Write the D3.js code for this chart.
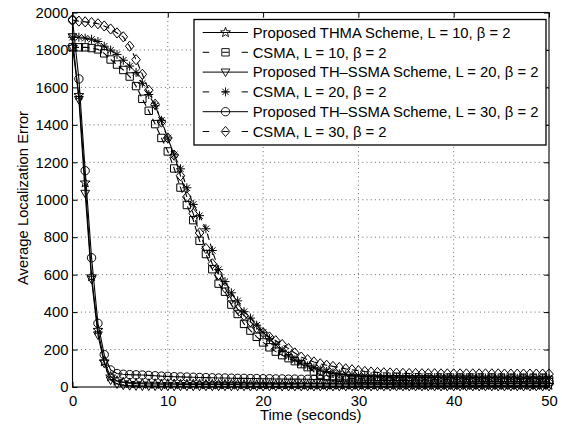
<!DOCTYPE html>
<html><head><meta charset="utf-8">
<script src="https://cdn.jsdelivr.net/npm/d3@7"></script>
<style>
html,body{margin:0;padding:0;background:#fff;}
text{font-family:"Liberation Sans",Arial,Helvetica,sans-serif;fill:#000;}
</style></head>
<body><svg id="chart" width="562" height="430"></svg>
<script>
// ---------------- data ----------------
const time = [0,0.67,1.33,2,2.67,3.33,4,4.67,5.33,6,6.67,7.33,8,8.67,9.33,10,10.67,11.33,12,12.67,
13.33,14,14.67,15.33,16,16.67,17.33,18,18.67,19.33,20,20.67,21.33,22,22.67,23.33,24,24.67,25.33,26,
26.67,27.33,28,28.67,29.33,30,30.67,31.33,32,32.67,33.33,34,34.67,35.33,36,36.67,37.33,38,38.67,39.33,
40,40.67,41.33,42,42.67,43.33,44,44.67,45.33,46,46.67,47.33,48,48.67,49.33,50];

const thmaL10 = [1815,1558,1091,590,304,135,55,32,24,20,18,17,16,16,15,15,15,14,14,14,
14,13,13,13,13,13,13,12,12,12,12,12,12,12,12,12,11,11,11,11,
11,11,11,11,11,11,11,11,11,11,11,10,10,10,10,10,10,10,10,10,
10,10,10,10,10,10,10,10,10,10,10,10,10,10,10,10];

const csmaL10 = [1814,1814,1814,1810,1803,1782,1749,1722,1693,1658,1607,1539,1475,1404,1330,1258,1167,1065,972,891,
781,710,629,552,509,440,390,337,301,268,238,212,189,170,154,138,122,106,83,66,
57,52,49,47,46,45,44,43,43,42,42,42,42,41,41,41,41,40,40,40,
40,40,40,40,39,39,39,39,39,39,39,39,38,38,38,38];

const thssmaL20 = [1870,1535,1034,575,278,127,37,16,10,7,6,5,5,5,4,4,4,4,4,4,
4,4,4,4,4,4,4,4,3,3,3,3,3,3,3,3,3,3,3,3,
3,3,3,3,3,3,3,3,3,3,3,3,3,3,3,3,3,3,3,3,
3,3,3,3,3,3,3,3,3,3,3,3,3,3,3,3];

const csmaL20 = [1868,1868,1863,1857,1845,1820,1799,1776,1745,1714,1680,1622,1562,1502,1424,1330,1240,1165,1064,975,
915,845,729,627,563,503,460,402,368,330,292,258,226,194,166,145,128,113,101,91,
83,76,70,66,62,59,57,55,54,53,52,52,51,51,50,50,50,50,49,49,
49,49,49,48,48,48,48,48,48,48,47,47,47,47,47,47];

const thssmaL30 = [1960,1645,1155,690,340,173,91,72,68,66,65,64,62,60,58,57,55,54,53,52,
51,50,49,48,48,47,46,46,45,45,44,44,43,43,42,42,41,41,40,40,
39,39,38,38,37,37,36,36,35,35,35,34,34,34,33,33,33,32,32,32,
31,31,31,31,30,30,30,30,29,29,29,29,28,28,28,28];

const csmaL30 = [1960,1954,1950,1946,1940,1928,1912,1891,1870,1820,1748,1670,1585,1510,1415,1330,1238,1128,1015,926,
823,740,658,600,530,469,416,382,349,316,290,267,247,227,205,182,160,146,134,124,
116,110,104,97,92,87,83,80,78,76,75,74,73,72,72,71,71,71,70,70,
70,70,70,70,70,70,70,70,69,69,69,69,69,69,69,69];

const xTicks = [0,10,20,30,40,50];
const yTicks = [0,200,400,600,800,1000,1200,1400,1600,1800,2000];
const legendLabels = [
  "Proposed THMA Scheme, L = 10, \u03b2 = 2",
  "CSMA, L = 10, \u03b2 = 2",
  "Proposed TH\u2013SSMA Scheme, L = 20, \u03b2 = 2",
  "CSMA, L = 20, \u03b2 = 2",
  "Proposed TH\u2013SSMA Scheme, L = 30, \u03b2 = 2",
  "CSMA, L = 30, \u03b2 = 2"
];
const xLabel = "Time (seconds)";
const yLabel = "Average Localization Error";

// ---------------- series table ----------------
const series = [
  {values: thmaL10,   marker: "star",     dashed: false},
  {values: csmaL10,   marker: "square",   dashed: true},
  {values: thssmaL20, marker: "triDown",  dashed: false},
  {values: csmaL20,   marker: "asterisk", dashed: true},
  {values: thssmaL30, marker: "circle",   dashed: false},
  {values: csmaL30,   marker: "diamond",  dashed: true}
].map((s,i) => Object.assign(s, {label: legendLabels[i]}));

// ---------------- layout ----------------
const L = 72.5, R = 549, T = 12.5, B = 387;
const svg = d3.select("#chart");
const x = d3.scaleLinear().domain([0,50]).range([L,R]);
const y = d3.scaleLinear().domain([0,2000]).range([B,T]);

function markerPath(type){
  const p = d3.path();
  if(type==="star"){
    const Ro=5.2, Ri=2.2;
    for(let k=0;k<10;k++){
      const r = k%2===0?Ro:Ri, a = -Math.PI/2 + k*Math.PI/5;
      const px=r*Math.cos(a), py=r*Math.sin(a);
      if(k===0) p.moveTo(px,py); else p.lineTo(px,py);
    }
    p.closePath();
  } else if(type==="square"){
    p.rect(-3.7,-3.7,7.4,7.4);
  } else if(type==="triDown"){
    p.moveTo(-4.4,-3.1); p.lineTo(4.4,-3.1); p.lineTo(0,4.5); p.closePath();
  } else if(type==="asterisk"){
    const r=4.5, d=3.2;
    p.moveTo(-r,0); p.lineTo(r,0); p.moveTo(0,-r); p.lineTo(0,r);
    p.moveTo(-d,-d); p.lineTo(d,d); p.moveTo(-d,d); p.lineTo(d,-d);
  } else if(type==="circle"){
    p.moveTo(4.2,0); p.arc(0,0,4.2,0,2*Math.PI);
  } else if(type==="diamond"){
    p.moveTo(0,-5.1); p.lineTo(4.3,0); p.lineTo(0,5.1); p.lineTo(-4.3,0); p.closePath();
  }
  return p.toString();
}

// grid
const grid = svg.append("g").attr("stroke","#444").attr("stroke-width",0.8).attr("stroke-dasharray","1,3.2");
grid.selectAll(".gx").data(xTicks.filter(d=>d>0&&d<50)).join("line")
  .attr("x1",d=>x(d)).attr("x2",d=>x(d)).attr("y1",T).attr("y2",B);
grid.selectAll(".gy").data(yTicks.filter(d=>d>0&&d<2000)).join("line")
  .attr("x1",L).attr("x2",R).attr("y1",d=>y(d)).attr("y2",d=>y(d));

// axes
const fs = "14.8px";
const ax = svg.append("g").attr("transform",`translate(0,${B})`)
  .call(d3.axisBottom(x).tickValues(xTicks).tickFormat(d3.format("d")).tickSize(-5).tickPadding(8));
const axT = svg.append("g").attr("transform",`translate(0,${T})`)
  .call(d3.axisTop(x).tickValues(xTicks).tickFormat("").tickSize(-5));
const ay = svg.append("g").attr("transform",`translate(${L},0)`)
  .call(d3.axisLeft(y).tickValues(yTicks).tickFormat(d3.format("d")).tickSize(-5).tickPadding(4));
const ayR = svg.append("g").attr("transform",`translate(${R},0)`)
  .call(d3.axisRight(y).tickValues(yTicks).tickFormat("").tickSize(-5));
[ax,axT,ay,ayR].forEach(g=>{
  g.select(".domain").remove();
  g.selectAll("line").attr("stroke","#000").attr("stroke-width",1);
  g.selectAll("text").style("font-size",fs).style("font-family",'"Liberation Sans",Arial,sans-serif').attr("fill","#000");
});

// frame
svg.append("rect").attr("x",L).attr("y",T).attr("width",R-L).attr("height",B-T)
  .attr("fill","none").attr("stroke","#000").attr("stroke-width",1.1);

// series
const line = d3.line().x((d,i)=>x(time[i])).y(d=>y(d));
series.forEach(s=>{
  const g = svg.append("g");
  g.append("path").datum(s.values).attr("d",line)
    .attr("fill","none").attr("stroke","#000").attr("stroke-width",1.1)
    .attr("stroke-dasharray", s.dashed ? "6.5,4" : null);
  const mp = markerPath(s.marker);
  g.selectAll("path.m").data(s.values).join("path").attr("class","m")
    .attr("d",mp).attr("transform",(d,i)=>`translate(${x(time[i])},${y(d)})`)
    .attr("fill","none").attr("stroke","#000").attr("stroke-width",1);
});

// labels
svg.append("text").attr("x",(L+R)/2).attr("y",420).attr("text-anchor","middle")
  .style("font-size",fs).text(xLabel);
svg.append("text").attr("transform",`translate(27.5,198) rotate(-90)`).attr("text-anchor","middle")
  .style("font-size",fs).text(yLabel);

// legend
const lg = svg.append("g");
lg.append("rect").attr("x",194).attr("y",19.5).attr("width",352).attr("height",125.5)
  .attr("fill","#fff").attr("stroke","#000").attr("stroke-width",1.3);
series.forEach((s,i)=>{
  const cy = 32.5 + i*19.8;
  lg.append("line").attr("x1",202.7).attr("x2",248).attr("y1",cy).attr("y2",cy)
    .attr("stroke","#000").attr("stroke-width",1)
    .attr("stroke-dasharray", s.dashed ? "6.5,13" : null);
  lg.append("path").attr("d",markerPath(s.marker)).attr("transform",`translate(225.5,${cy})`)
    .attr("fill","none").attr("stroke","#000").attr("stroke-width",0.9);
  lg.append("text").attr("x",252.7).attr("y",cy+5.2).style("font-size",fs).text(s.label);
});
</script></body></html>
